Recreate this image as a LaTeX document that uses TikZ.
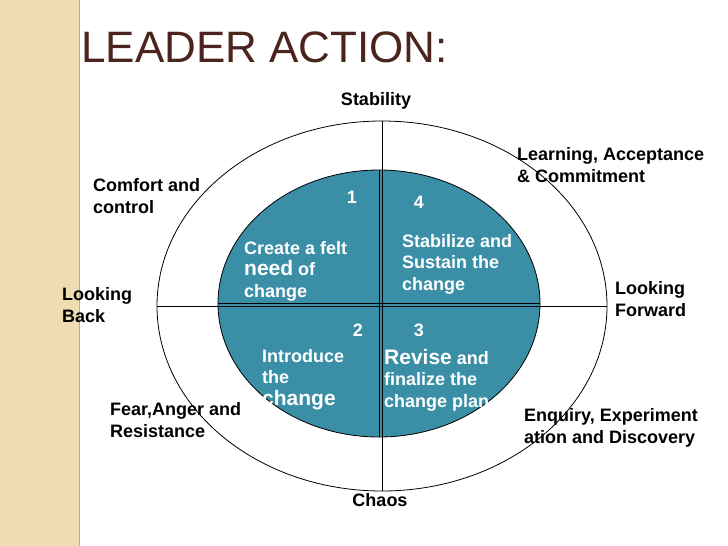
\documentclass[tikz,border=0pt]{standalone}
\usepackage{fontspec}
\setmainfont{Liberation Sans}
\usetikzlibrary{shapes.geometric}
\definecolor{quadteal}{RGB}{58,143,166}
\definecolor{titlebrown}{RGB}{75,36,30}
\definecolor{stripbeige}{RGB}{238,221,178}
\definecolor{stripedge}{RGB}{190,172,135}
\begin{document}
\begin{tikzpicture}[x=1pt,y=-1pt,
  lbl/.style={font=\bfseries\fontsize{18}{21.5}\selectfont, align=left, anchor=base west, inner sep=0pt},
  inlbl/.style={lbl, text=white},
  num/.style={font=\bfseries\fontsize{18}{21.5}\selectfont, text=white, anchor=base, inner sep=0pt}]
\useasboundingbox (0,0) rectangle (728,546);
\fill[stripbeige] (0,0) rectangle (79,546);
\draw[stripedge, line width=1.5pt] (79.5,0) -- (79.5,546);
\node[font=\fontsize{44}{50}\selectfont, text=titlebrown, anchor=base west, inner sep=0pt] (title) at (81,62) {LEADER ACTION:};
\node[draw, ellipse, line width=0.8pt, minimum width=450pt, minimum height=370pt, inner sep=0pt] (outer) at (382,306) {};
\node[draw, ellipse, fill=quadteal, line width=0.8pt, minimum width=322pt, minimum height=267pt, inner sep=0pt] (inner) at (379,303.5) {};
\draw[line width=0.8pt] (inner.north) -- (inner.south);
\draw[line width=0.8pt] (inner.west) -- (inner.east);
\draw[line width=0.8pt] (outer.north) -- (outer.south);
\draw[line width=0.8pt] (outer.west) -- (outer.east);
% outer labels (placed at the baseline of the last line)
\node[lbl, anchor=base] (stability) at (376,105) {Stability};
\node[lbl] (learning) at (517,182) {Learning, Acceptance\\\& Commitment};
\node[lbl] (comfort) at (93,213) {Comfort and\\control};
\node[lbl] (back) at (62,322) {Looking\\Back};
\node[lbl] (forward) at (615,316) {Looking\\Forward};
\node[lbl] (fear) at (110,437) {Fear,Anger and\\Resistance};
\node[lbl] (enquiry) at (524,443) {Enquiry, Experiment\\ation and Discovery};
\node[lbl, anchor=base] (chaos) at (380,506) {Chaos};
% quadrants
\node[num] (one) at (352,203) {1};
\node[num] (four) at (419,208) {4};
\node[num] (two) at (358,336) {2};
\node[num] (three) at (419,336) {3};
\node[inlbl] (create) at (244,297) {Create a felt\\{\fontsize{21}{21.5}\selectfont need} of\\change};
\node[inlbl] (stabilize) at (402,290) {Stabilize and\\Sustain the\\change};
\node[inlbl] (introduce) at (262,405) {Introduce\\the\\{\fontsize{21}{21.5}\selectfont change}};
\node[inlbl] (revise) at (384,407) {{\fontsize{21}{21.5}\selectfont Revise} and\\finalize the\\change plan};
\end{tikzpicture}
\end{document}
